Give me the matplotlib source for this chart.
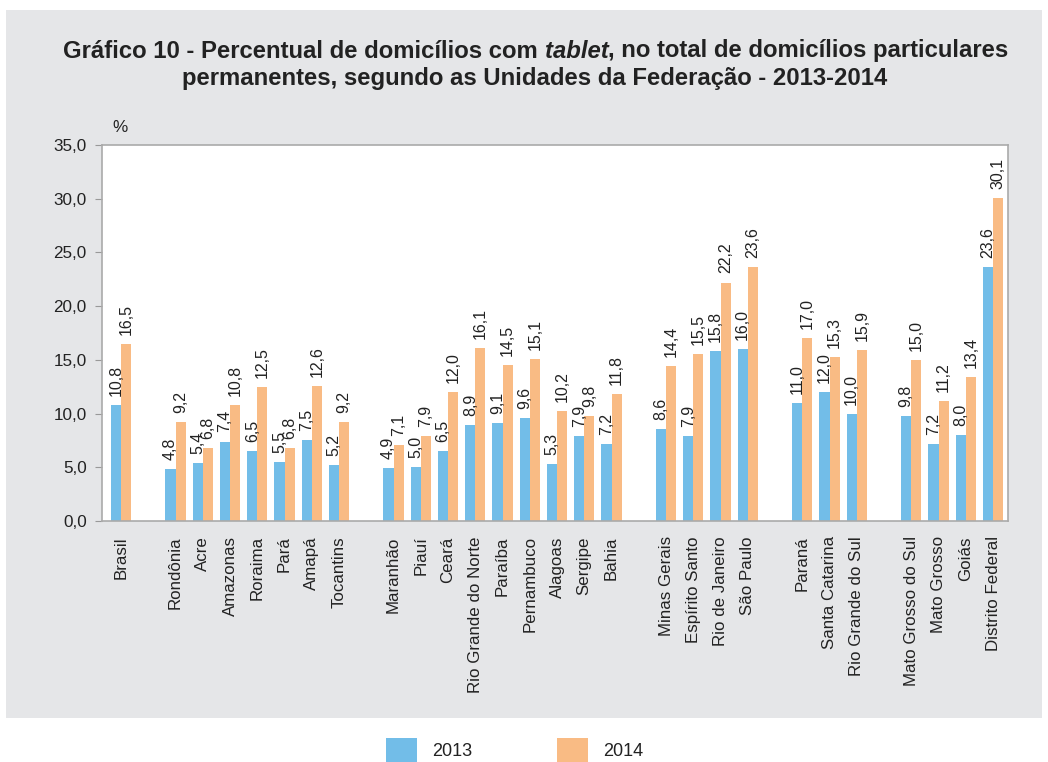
import matplotlib
matplotlib.use("Agg")
import matplotlib.pyplot as plt
from matplotlib.patches import Rectangle

plt.rcParams['font.family'] = ['Liberation Sans', 'DejaVu Sans']

categories = ["Brasil",
              "Rondônia", "Acre", "Amazonas", "Roraima", "Pará", "Amapá", "Tocantins",
              "Maranhão", "Piauí", "Ceará", "Rio Grande do Norte", "Paraíba", "Pernambuco",
              "Alagoas", "Sergipe", "Bahia",
              "Minas Gerais", "Espírito Santo", "Rio de Janeiro", "São Paulo",
              "Paraná", "Santa Catarina", "Rio Grande do Sul",
              "Mato Grosso do Sul", "Mato Grosso", "Goiás", "Distrito Federal"]
group_sizes = [1, 7, 9, 4, 3, 4]
values_2013 = [10.8,
               4.8, 5.4, 7.4, 6.5, 5.5, 7.5, 5.2,
               4.9, 5.0, 6.5, 8.9, 9.1, 9.6, 5.3, 7.9, 7.2,
               8.6, 7.9, 15.8, 16.0,
               11.0, 12.0, 10.0,
               9.8, 7.2, 8.0, 23.6]
values_2014 = [16.5,
               9.2, 6.8, 10.8, 12.5, 6.8, 12.6, 9.2,
               7.1, 7.9, 12.0, 16.1, 14.5, 15.1, 10.2, 9.8, 11.8,
               14.4, 15.5, 22.2, 23.6,
               17.0, 15.3, 15.9,
               15.0, 11.2, 13.4, 30.1]
series_labels = ["2013", "2014"]
yticks = [0, 5, 10, 15, 20, 25, 30, 35]

BLUE = "#72bde8"
ORANGE = "#f9bb84"
GRAY_BG = "#e5e6e8"
TXT = "#222222"

# positions with one empty slot between groups
positions = []
slot = 0
for gi, n in enumerate(group_sizes):
    for k in range(n):
        positions.append(slot)
        slot += 1
    slot += 1

W, H = 1048, 762
fig = plt.figure(figsize=(W / 100, H / 100), dpi=100)
fig.patch.set_facecolor("white")
fig.patches.append(Rectangle((6 / W, 1 - 718 / H), (1042 - 6) / W, (718 - 10) / H,
                             transform=fig.transFigure, facecolor=GRAY_BG,
                             edgecolor="none", zorder=-10))

ax = fig.add_axes([102 / W, 1 - 521 / H, (1008 - 102) / W, (521 - 145) / H])
ax.set_facecolor("white")

bw = 0.37
for x, v1, v2 in zip(positions, values_2013, values_2014):
    ax.bar(x - bw / 2, v1, width=bw, color=BLUE, linewidth=0)
    ax.bar(x + bw / 2, v2, width=bw, color=ORANGE, linewidth=0)
    for xx, v in ((x - bw / 2, v1), (x + bw / 2, v2)):
        ax.annotate(f"{v:.1f}".replace(".", ","), xy=(xx, v), xytext=(0, 6.5),
                    textcoords="offset points", rotation=90, ha="center",
                    va="bottom", fontsize=11.5, color=TXT)

ax.set_xlim(-0.7, positions[-1] + 0.55)
ax.set_ylim(0, 35)
ax.set_yticks(yticks)
ax.set_yticklabels([f"{t:.1f}".replace(".", ",") for t in yticks], fontsize=12.3,
                   color=TXT)
ax.set_xticks(positions)
ax.set_xticklabels(categories, rotation=90, fontsize=12.2, color=TXT,
                   va="top", ha="center")
ax.tick_params(axis="x", length=0, pad=11)
ax.tick_params(axis="y", length=5, color="#999999", pad=6)
for s in ax.spines.values():
    s.set_color("#aaaaaa")
    s.set_linewidth(1.2)

fig.text(112 / W, 1 - 127 / H, "%", fontsize=12.3, color=TXT,
         ha="left", va="center")

# Title with italic "tablet"
fig.canvas.draw()
renderer = fig.canvas.get_renderer()
parts = [("Gráfico 10 - Percentual de domicílios com ", "normal"),
         ("tablet", "italic"),
         (", no total de domicílios particulares", "normal")]
tsize = 17.2
texts = []
for s, st in parts:
    t = fig.text(0, 1 - 51 / H, s, fontsize=tsize, fontweight="bold", style=st,
                 color=TXT, ha="left", va="center")
    texts.append(t)
widths = [t.get_window_extent(renderer).width for t in texts]
total = sum(widths)
x0 = 536 - total / 2
for t, w in zip(texts, widths):
    t.set_x(x0 / W)
    x0 += w
fig.text(535 / W, 1 - 79 / H,
         "permanentes, segundo as Unidades da Federação - 2013-2014",
         fontsize=tsize, fontweight="bold", color=TXT, ha="center", va="center")

# Legend
for xl, col, lab in ((386, BLUE, series_labels[0]), (557, ORANGE, series_labels[1])):
    fig.patches.append(Rectangle((xl / W, 1 - 762 / H), 31 / W, 24 / H,
                                 transform=fig.transFigure, facecolor=col,
                                 edgecolor="none"))
    fig.text((xl + 46) / W, 1 - 751 / H, lab, fontsize=13, color=TXT,
             ha="left", va="center")

fig.savefig("out.png", dpi=100)
